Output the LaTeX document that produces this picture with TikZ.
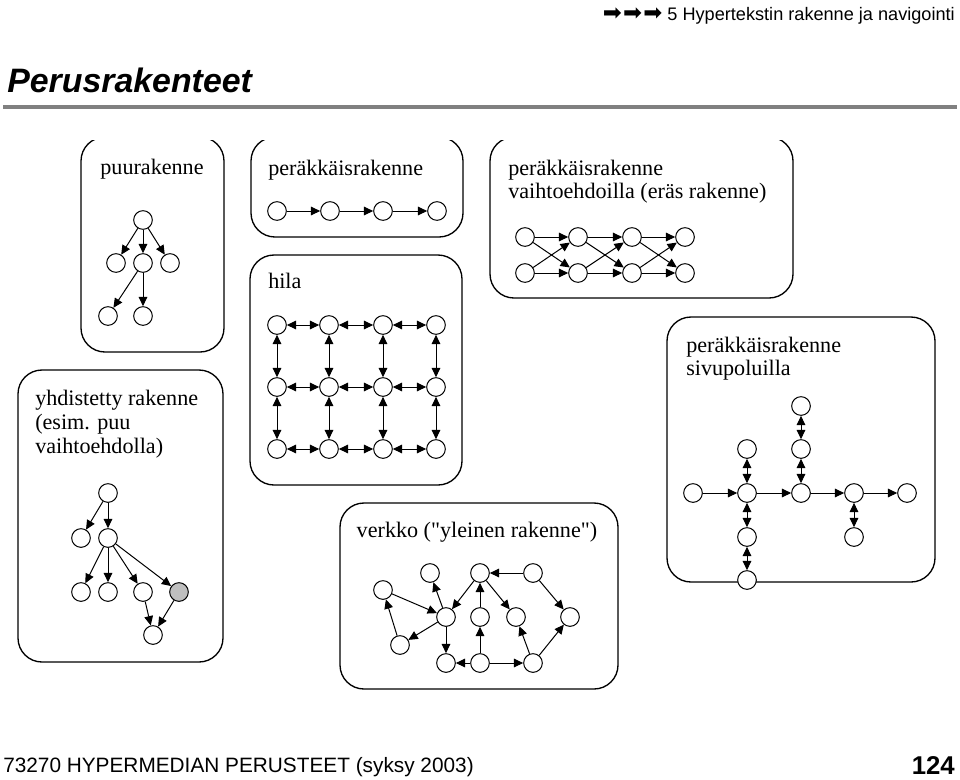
\documentclass[tikz,border=0pt]{standalone}
\usepackage{fontspec}
\setmainfont{Liberation Serif}
\setsansfont{Liberation Sans}
\newfontfamily\arrowfont{DejaVu Sans}
\newfontfamily\quotefont{Liberation Serif}
\usetikzlibrary{arrows.meta}

\begin{document}
\begin{tikzpicture}[x=0.75pt,y=-0.75pt,
  frame/.style={draw,line width=1pt,rounded corners=18pt,fill=white},
  nd/.style={circle,draw,fill=white,inner sep=0pt,minimum size=14pt,line width=0.75pt},
  grey nd/.style={nd,fill=black!25},
  arr/.style={-{Triangle[length=7pt,width=6.5pt]},line width=0.75pt},
  biarr/.style={{Triangle[length=7pt,width=6.5pt]}-{Triangle[length=7pt,width=6.5pt]},line width=0.75pt},
  lbl/.style={anchor=base west,inner sep=0pt,font=\fontsize{16.6}{18}\selectfont}]

\useasboundingbox (0,0) rectangle (960,779);

\node[anchor=base east,inner sep=0pt,font=\sffamily\fontsize{13.6}{16}\selectfont] (head) at (955,20)
  {{\arrowfont\fontsize{17}{16}\selectfont ➡\kern1pt➡\kern1pt➡}\ 5 Hypertekstin rakenne ja navigointi};
\node[anchor=base west,inner sep=0pt,font=\sffamily\bfseries\itshape\fontsize{25.4}{30}\selectfont] (title) at (7,92) {Perusrakenteet};
\draw[black!50,line width=3pt] (3,107) -- (957,107);

\node[anchor=base west,inner sep=0pt,font=\sffamily\fontsize{15.6}{18}\selectfont] (foot) at (3,772) {73270 HYPERMEDIAN PERUSTEET (syksy 2003)};
\node[anchor=base east,inner sep=0pt,font=\sffamily\bfseries\fontsize{19.3}{22}\selectfont] (page) at (955,774) {124};

\begin{scope}
\clip (0,140) rectangle (960,779);
\draw[frame] (81,137) rectangle (224,352);
\draw[frame] (251,137) rectangle (463,237);
\draw[frame] (490,137) rectangle (793,298);
\end{scope}
\draw[frame] (250,255) rectangle (462,485);
\draw[frame] (18,370) rectangle (223,662);
\draw[frame] (340,503) rectangle (618,689);
\draw[frame] (667,317) rectangle (935,582);

% puurakenne
\node[lbl,anchor=base] (puu) at (152,174) {puurakenne};
\node[nd] (p0) at (143,220) {};
\node[nd] (p1) at (116,263) {};
\node[nd] (p2) at (143,263) {};
\node[nd] (p3) at (170,263) {};
\node[nd] (p4) at (108,316) {};
\node[nd] (p5) at (143,316) {};
\draw[arr] (p0) -- (p1);
\draw[arr] (p0) -- (p2);
\draw[arr] (p0) -- (p3);
\draw[arr] (p2) -- (p4);
\draw[arr] (p2) -- (p5);

% perakkaisrakenne
\node[lbl] (seq) at (268,175) {peräkkäisrakenne};
\foreach \n/\x in {1/277,2/330,3/383,4/437}
  \node[nd] (s\n) at (\x,211) {};
\foreach \a/\b in {1/2,2/3,3/4}
  \draw[arr] (s\a) -- (s\b);

% vaihtoehdoilla
\node[lbl] (alt1) at (508,175) {peräkkäisrakenne};
\node[lbl] (alt2) at (508,198) {vaihtoehdoilla (eräs rakenne)};
\foreach \n/\x in {1/525,2/578,3/632,4/685} {
  \node[nd] (t\n) at (\x,237) {};
  \node[nd] (b\n) at (\x,273) {};
}
\foreach \a/\b in {1/2,2/3,3/4} {
  \draw[arr] (t\a) -- (t\b);
  \draw[arr] (b\a) -- (b\b);
  \draw[arr] (t\a) -- (b\b);
  \draw[arr] (b\a) -- (t\b);
}

% hila
\node[lbl] (hila) at (268,288) {hila};
\foreach \i/\x in {1/277,2/329,3/383,4/436}
  \foreach \j/\y in {1/325,2/387,3/449}
    \node[nd] (g\i\j) at (\x,\y) {};
\foreach \j in {1,2,3}
  \foreach \a/\b in {1/2,2/3,3/4}
    \draw[biarr] (g\a\j) -- (g\b\j);
\foreach \i in {1,2,3,4}
  \foreach \a/\b in {1/2,2/3}
    \draw[biarr] (g\i\a) -- (g\i\b);

% yhdistetty rakenne
\node[lbl] (yh1) at (35,405) {yhdistetty rakenne};
\node[lbl] (yh2) at (35,429) {(esim. puu};
\node[lbl] (yh3) at (35,453) {vaihtoehdolla)};
\node[nd] (y0) at (108,493) {};
\node[nd] (y1) at (81,538) {};
\node[nd] (y2) at (108,538) {};
\node[nd] (y3) at (81,592) {};
\node[nd] (y4) at (108,592) {};
\node[nd] (y5) at (143,592) {};
\node[grey nd] (y6) at (179,592) {};
\node[nd] (y7) at (153,635) {};
\draw[arr] (y0) -- (y1);
\draw[arr] (y0) -- (y2);
\foreach \k in {3,4,5,6}
  \draw[arr] (y2) -- (y\k);
\draw[arr] (y5) -- (y7);
\draw[arr] (y6) -- (y7);

% verkko
\node[lbl,anchor=base] (verkko) at (477,537) {\quotefont verkko ("yleinen rakenne")};
\node[nd] (va) at (430,573) {};
\node[nd] (vb) at (480,573) {};
\node[nd] (vc) at (533,573) {};
\node[nd] (vd) at (383,590) {};
\node[nd] (ve) at (446,617) {};
\node[nd] (vf) at (480,617) {};
\node[nd] (vg) at (516,617) {};
\node[nd] (vh) at (570,617) {};
\node[nd] (vi) at (400,645) {};
\node[nd] (vj) at (446,663) {};
\node[nd] (vk) at (480,663) {};
\node[nd] (vl) at (533,663) {};
\draw[arr] (vc) -- (vb);
\draw[arr] (vc) -- (vh);
\draw[arr] (vb) -- (ve);
\draw[arr] (vb) -- (vg);
\draw[arr] (vf) -- (vb);
\draw[arr] (ve) -- (va);
\draw[arr] (vd) -- (ve);
\draw[arr] (vi) -- (vd);
\draw[arr] (ve) -- (vi);
\draw[arr] (ve) -- (vj);
\draw[arr] (vk) -- (vj);
\draw[arr] (vk) -- (vl);
\draw[arr] (vk) -- (vf);
\draw[arr] (vl) -- (vg);
\draw[arr] (vl) -- (vh);

% sivupoluilla
\node[lbl] (siv1) at (686,352) {peräkkäisrakenne};
\node[lbl] (siv2) at (686,375) {sivupoluilla};
\foreach \n/\x in {1/693,2/747,3/801,4/854,5/907}
  \node[nd] (m\n) at (\x,493) {};
\foreach \a/\b in {1/2,2/3,3/4,4/5}
  \draw[arr] (m\a) -- (m\b);
\node[nd] (u2) at (747,449) {};
\node[nd] (d2) at (747,537) {};
\node[nd] (dd2) at (747,580) {};
\node[nd] (u3) at (801,449) {};
\node[nd] (uu3) at (801,406) {};
\node[nd] (d4) at (854,537) {};
\draw[biarr] (m2) -- (u2);
\draw[biarr] (m2) -- (d2);
\draw[biarr] (d2) -- (dd2);
\draw[biarr] (m3) -- (u3);
\draw[biarr] (u3) -- (uu3);
\draw[biarr] (m4) -- (d4);

\end{tikzpicture}
\end{document}
